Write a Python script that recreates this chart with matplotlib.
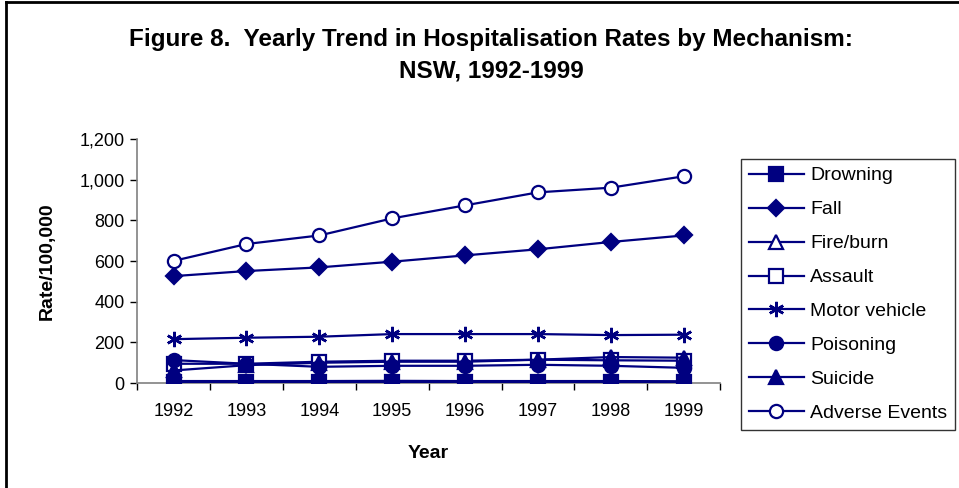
import matplotlib
matplotlib.use("Agg")
import matplotlib.pyplot as plt
from matplotlib.lines import Line2D
from matplotlib.ticker import FuncFormatter, FixedLocator

plt.rcParams['font.family'] = ['Liberation Sans', 'DejaVu Sans']

# data
years = [1992, 1993, 1994, 1995, 1996, 1997, 1998, 1999]
drowning = [5, 5, 5, 5, 5, 5, 5, 5]
fall = [526, 551, 569, 597, 628, 658, 694, 726]
fire_burn = [10, 10, 10, 11, 10, 10, 10, 9]
assault = [95, 95, 105, 110, 110, 115, 112, 110]
motor_vehicle = [216, 223, 228, 241, 241, 241, 236, 238]
poisoning = [113, 95, 80, 85, 85, 90, 85, 75]
suicide = [62, 88, 100, 105, 105, 115, 128, 125]
adverse_events = [601, 684, 726, 810, 874, 938, 961, 1017]

# name, values, marker, filled
series = [
    ("Drowning", drowning, "s", True),
    ("Fall", fall, "D", True),
    ("Fire/burn", fire_burn, "^", False),
    ("Assault", assault, "s", False),
    ("Motor vehicle", motor_vehicle, (6, 2, 0), True),
    ("Poisoning", poisoning, "o", True),
    ("Suicide", suicide, "^", True),
    ("Adverse Events", adverse_events, "o", False),
]

navy = "#000080"

fig = plt.figure(figsize=(9.59, 4.88), dpi=100)
ax = fig.add_axes([0.143, 0.215, 0.608, 0.500])

for i, (name, vals, mk, filled) in enumerate(series):
    ms = 9.5
    if mk == "D":
        ms = 8
    z = 3 + i
    if name == "Fire/burn":
        z = 2  # sits behind the drowning squares
    if name == "Motor vehicle":
        ax.plot(years, vals, color=navy, lw=1.6, marker=mk, ms=11, mew=1.8,
                label=name, zorder=z)
        continue
    ax.plot(years, vals, color=navy, lw=1.6, marker=mk, ms=ms,
            mfc=navy if filled else "white", mec=navy, mew=1.6, label=name,
            zorder=z)

ax.set_xlim(1991.5, 1999.5)
ax.set_ylim(0, 1200)
ax.set_yticks(range(0, 1201, 200))
ax.yaxis.set_major_formatter(FuncFormatter(lambda v, p: f"{int(v):,}"))
ax.set_xticks(years)
ax.xaxis.set_minor_locator(FixedLocator([y + 0.5 for y in range(1991, 2000)]))
ax.tick_params(axis="x", which="major", length=0, pad=14, labelsize=13)
ax.tick_params(axis="x", which="minor", length=5, width=1, color="black")
ax.tick_params(axis="y", length=5, width=1, labelsize=13, pad=4)

for side in ["top", "right"]:
    ax.spines[side].set_visible(False)
for side in ["left", "bottom"]:
    ax.spines[side].set_color("#808080")
    ax.spines[side].set_linewidth(1.2)

ax.set_xlabel("Year", fontsize=14, fontweight="bold", labelpad=18)
ax.set_ylabel("Rate/100,000", fontsize=14, fontweight="bold", labelpad=17)

fig.text(0.512, 0.920, "Figure 8.  Yearly Trend in Hospitalisation Rates by Mechanism:",
         ha="center", va="center", fontsize=17.5, fontweight="bold")
fig.text(0.512, 0.855, "NSW, 1992-1999", ha="center", va="center",
         fontsize=17.5, fontweight="bold")

handles, labels = ax.get_legend_handles_labels()
leg = fig.legend(handles, labels, loc="upper left", bbox_to_anchor=(0.773, 0.674),
                 fontsize=14, frameon=True, fancybox=False, edgecolor="black",
                 handlelength=2.8, labelspacing=0.84, borderpad=0.4,
                 handletextpad=0.35, borderaxespad=0)
leg.get_frame().set_linewidth(1.0)

# figure frame (left and top edges visible)
fig.add_artist(Line2D([0.006, 0.006], [0, 0.996], color="black", lw=2))
fig.add_artist(Line2D([0.006, 1.0], [0.996, 0.996], color="black", lw=2))

fig.savefig("out.png", dpi=100)
